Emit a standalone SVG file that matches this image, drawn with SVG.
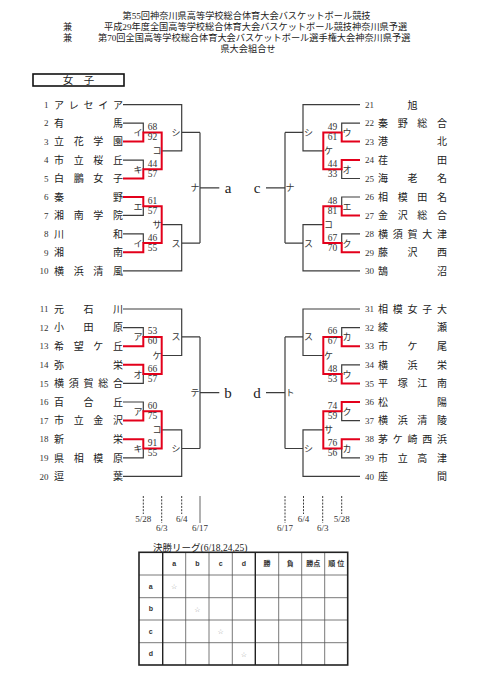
<svg xmlns="http://www.w3.org/2000/svg" width="481" height="680" viewBox="0 0 481 680">
<style>
.bg{fill:#fff}
.ln{fill:none;stroke:#3c3c3c;stroke-width:1.2}
.rd{fill:none;stroke:#e3001b;stroke-width:2}
.dt{fill:none;stroke:#3c3c3c;stroke-width:1;stroke-dasharray:2 1.3}
.dts{fill:none;stroke:#3c3c3c;stroke-width:0.8}
.hd{font-family:"Liberation Serif","Noto Sans CJK JP",serif;font-size:9.2px;fill:#222}
.nm{font-family:"Liberation Serif","Noto Sans CJK JP",serif;font-size:10px;fill:#222;text-anchor:middle}
.no{font-family:"Liberation Serif","Noto Sans CJK JP",serif;font-size:9px;fill:#333}
.sc{font-family:"Liberation Serif",serif;font-size:9.5px;fill:#333;text-anchor:middle}
.lb{font-family:"Liberation Serif","Noto Sans CJK JP",serif;font-size:9px;fill:#333;text-anchor:middle}
.big{font-family:"Liberation Serif",serif;font-size:15px;fill:#222;text-anchor:middle}
.dl{font-family:"Liberation Serif",serif;font-size:9px;fill:#333;text-anchor:middle}
.tb{fill:none;stroke:#222;stroke-width:1.6}
.tt{fill:none;stroke:#222;stroke-width:1.4}
.tn{fill:none;stroke:#555;stroke-width:0.8}
.th{font-family:"Liberation Sans","Noto Sans CJK JP",sans-serif;font-size:7px;font-weight:bold;fill:#333;text-anchor:middle}
.st{font-family:"DejaVu Sans","Noto Sans CJK JP",sans-serif;font-size:7px;fill:#999;text-anchor:middle}
</style>
<rect class="bg" x="0" y="0" width="481" height="680"/>

<g id="header">
<text class="hd" x="246.5" y="19" text-anchor="middle">第55回神奈川県高等学校総合体育大会バスケットボール競技</text>
<text class="hd" x="63" y="29.8">兼</text>
<text class="hd" x="104" y="29.8">平成29年度全国高等学校総合体育大会バスケットボール競技神奈川県予選</text>
<text class="hd" x="63" y="40.5">兼</text>
<text class="hd" x="98" y="40.5">第70回全国高等学校総合体育大会バスケットボール選手権大会神奈川県予選</text>
<text class="hd" x="248" y="51.5" text-anchor="middle">県大会組合せ</text>
</g>

<g id="title">
<rect x="33" y="74" width="91" height="12" fill="none" stroke="#111" stroke-width="1.6"/>
<text class="nm" x="78.5" y="84" style="font-size:10.5px">女　子</text>
</g>

<g id="connectors">
<!-- left top dark -->
<path class="ln" d="M123 104.7H181.7V150.9H161.7 M181.7 132.4H200 M123 123.2H143.3V132.4 M123 160.1H143.3V169.3 M123 215.4H143.3V206.2 M123 233.9H143.3V243.1 M161.7 224.7H181.7V270.8H123 M181.7 243.1H200 M200 132.4V243.1 M200 187.8H219.3"/>
<path class="rd" d="M123 141.6H143.3V132.4H161.7V169.3H143.3V178.5H123 M123 197H143.3V206.2H161.7V243.1H143.3V252.3H123"/>
<!-- left bottom -->
<path class="ln" d="M123 309H181.7V355.5H161.7 M181.7 336.9H200 M123 327.6H143.3V336.9 M123 383.4H143.3V374.1 M123 402H143.3V411.3 M123 457.8H143.3V448.5 M161.7 429.9H181.7V476.4H123 M181.7 448.5H200 M200 336.9V448.5 M200 392.7H219.3"/>
<path class="rd" d="M123 346.2H143.3V336.9H161.7V374.1H143.3V364.8H123 M123 420.6H143.3V411.3H161.7V448.5H143.3V439.2H123"/>
<!-- right top -->
<path class="ln" d="M360 104.7H303V150.9H323.3 M303 132.4H285 M360 123.2H341.7V132.4 M360 178.5H341.7V169.3 M360 197H341.7V206.2 M360 233.9H341.7V243.1 M323.3 224.7H303V270.8H360 M303 243.1H285 M285 132.4V243.1 M285 187.8H266"/>
<path class="rd" d="M360 141.6H341.7V132.4H323.3V169.3H341.7V160.1H360 M360 215.4H341.7V206.2H323.3V243.1H341.7V252.3H360"/>
<!-- right bottom -->
<path class="ln" d="M360 309H303V355.5H323.3 M303 336.9H285 M360 327.6H341.7V336.9 M360 364.8H341.7V374.1 M360 420.6H341.7V411.3 M360 457.8H341.7V448.5 M323.3 429.9H303V476.4H360 M303 448.5H285 M285 336.9V448.5 M285 392.7H266"/>
<path class="rd" d="M360 346.2H341.7V336.9H323.3V374.1H341.7V383.4H360 M360 402H341.7V411.3H323.3V448.5H341.7V439.2H360"/>
<!-- date lines -->
<path class="dt" d="M143.3 496V514 M161.7 496V523 M181.7 496V514 M285 496V523 M303.5 496V514 M322.7 496V523 M341.7 496V514"/>
<path class="dts" d="M200 496V523"/>
</g>

<g id="labels">
<text class="lb" x="138" y="135.8">イ</text>
<text class="lb" x="138" y="172.7">キ</text>
<text class="lb" x="138" y="209.6">エ</text>
<text class="lb" x="138" y="246.5">イ</text>
<text class="lb" x="157" y="154.3">コ</text>
<text class="lb" x="157" y="228.1">サ</text>
<text class="lb" x="176" y="135.8">シ</text>
<text class="lb" x="176" y="246.5">ス</text>
<text class="lb" x="195" y="191.2">ナ</text>
<text class="lb" x="138" y="340.3">ア</text>
<text class="lb" x="138" y="377.5">オ</text>
<text class="lb" x="138" y="414.7">ア</text>
<text class="lb" x="138" y="451.9">キ</text>
<text class="lb" x="157" y="358.9">ケ</text>
<text class="lb" x="157" y="433.3">コ</text>
<text class="lb" x="176" y="340.3">ス</text>
<text class="lb" x="176" y="451.9">シ</text>
<text class="lb" x="195" y="396.1">テ</text>
<text class="lb" x="347" y="135.8">ウ</text>
<text class="lb" x="347" y="172.7">オ</text>
<text class="lb" x="347" y="209.6">エ</text>
<text class="lb" x="347" y="246.5">ク</text>
<text class="lb" x="328.5" y="154.3">ケ</text>
<text class="lb" x="328.5" y="228.1">コ</text>
<text class="lb" x="308.5" y="135.8">シ</text>
<text class="lb" x="308.5" y="246.5">ス</text>
<text class="lb" x="290" y="191.2">ナ</text>
<text class="lb" x="347" y="340.3">カ</text>
<text class="lb" x="347" y="377.5">ウ</text>
<text class="lb" x="347" y="414.7">ク</text>
<text class="lb" x="347" y="451.9">カ</text>
<text class="lb" x="328.5" y="358.9">ケ</text>
<text class="lb" x="328.5" y="433.3">サ</text>
<text class="lb" x="308.5" y="340.3">ス</text>
<text class="lb" x="308.5" y="451.9">シ</text>
<text class="lb" x="290" y="396.1">ト</text>
</g>

<g id="scores">
<text class="sc" x="152.5" y="129.9">68</text><text class="sc" x="152.5" y="139.9">92</text>
<text class="sc" x="152.5" y="166.8">44</text><text class="sc" x="152.5" y="176.8">57</text>
<text class="sc" x="152.5" y="203.7">61</text><text class="sc" x="152.5" y="213.7">57</text>
<text class="sc" x="152.5" y="240.6">46</text><text class="sc" x="152.5" y="250.6">55</text>
<text class="sc" x="152.5" y="334.4">53</text><text class="sc" x="152.5" y="344.4">60</text>
<text class="sc" x="152.5" y="371.6">66</text><text class="sc" x="152.5" y="381.6">57</text>
<text class="sc" x="152.5" y="408.8">60</text><text class="sc" x="152.5" y="418.8">75</text>
<text class="sc" x="152.5" y="446">91</text><text class="sc" x="152.5" y="456">55</text>
<text class="sc" x="332.5" y="129.9">49</text><text class="sc" x="332.5" y="139.9">61</text>
<text class="sc" x="332.5" y="166.8">44</text><text class="sc" x="332.5" y="176.8">33</text>
<text class="sc" x="332.5" y="203.7">48</text><text class="sc" x="332.5" y="213.7">81</text>
<text class="sc" x="332.5" y="240.6">67</text><text class="sc" x="332.5" y="250.6">70</text>
<text class="sc" x="332.5" y="334.4">66</text><text class="sc" x="332.5" y="344.4">67</text>
<text class="sc" x="332.5" y="371.6">48</text><text class="sc" x="332.5" y="381.6">53</text>
<text class="sc" x="332.5" y="408.8">74</text><text class="sc" x="332.5" y="418.8">59</text>
<text class="sc" x="332.5" y="446">76</text><text class="sc" x="332.5" y="456">56</text>
</g>

<g id="finals">
<text class="big" x="228" y="193">a</text>
<text class="big" x="257" y="193">c</text>
<text class="big" x="228" y="398">b</text>
<text class="big" x="257" y="398">d</text>
</g>

<g id="t1"><text class="no" x="48.5" y="107.9" text-anchor="end">1</text><text class="nm" x="59 73.75 88.5 103.25 118" y="108.5">アレセイア</text></g>
<g id="t2"><text class="no" x="48.5" y="126.4" text-anchor="end">2</text><text class="nm" x="59 118" y="127">有馬</text></g>
<g id="t3"><text class="no" x="48.5" y="144.8" text-anchor="end">3</text><text class="nm" x="59 78.67 98.33 118" y="145.4">立花学園</text></g>
<g id="t4"><text class="no" x="48.5" y="163.3" text-anchor="end">4</text><text class="nm" x="59 78.67 98.33 118" y="163.9">市立桜丘</text></g>
<g id="t5"><text class="no" x="48.5" y="181.7" text-anchor="end">5</text><text class="nm" x="59 78.67 98.33 118" y="182.3">白鵬女子</text></g>
<g id="t6"><text class="no" x="48.5" y="200.2" text-anchor="end">6</text><text class="nm" x="59 118" y="200.8">秦野</text></g>
<g id="t7"><text class="no" x="48.5" y="218.6" text-anchor="end">7</text><text class="nm" x="59 78.67 98.33 118" y="219.2">湘南学院</text></g>
<g id="t8"><text class="no" x="48.5" y="237.1" text-anchor="end">8</text><text class="nm" x="59 118" y="237.7">川和</text></g>
<g id="t9"><text class="no" x="48.5" y="255.5" text-anchor="end">9</text><text class="nm" x="59 118" y="256.1">湘南</text></g>
<g id="t10"><text class="no" x="48.5" y="274" text-anchor="end">10</text><text class="nm" x="59 78.67 98.33 118" y="274.6">横浜清風</text></g>
<g id="t11"><text class="no" x="48.5" y="312.2" text-anchor="end">11</text><text class="nm" x="59 88.5 118" y="312.8">元石川</text></g>
<g id="t12"><text class="no" x="48.5" y="330.8" text-anchor="end">12</text><text class="nm" x="59 88.5 118" y="331.4">小田原</text></g>
<g id="t13"><text class="no" x="48.5" y="349.4" text-anchor="end">13</text><text class="nm" x="59 78.67 98.33 118" y="350">希望ケ丘</text></g>
<g id="t14"><text class="no" x="48.5" y="368" text-anchor="end">14</text><text class="nm" x="59 118" y="368.6">弥栄</text></g>
<g id="t15"><text class="no" x="48.5" y="386.6" text-anchor="end">15</text><text class="nm" x="59 73.75 88.5 103.25 118" y="387.2">横須賀総合</text></g>
<g id="t16"><text class="no" x="48.5" y="405.2" text-anchor="end">16</text><text class="nm" x="59 88.5 118" y="405.8">百合丘</text></g>
<g id="t17"><text class="no" x="48.5" y="423.8" text-anchor="end">17</text><text class="nm" x="59 78.67 98.33 118" y="424.4">市立金沢</text></g>
<g id="t18"><text class="no" x="48.5" y="442.4" text-anchor="end">18</text><text class="nm" x="59 118" y="443">新栄</text></g>
<g id="t19"><text class="no" x="48.5" y="461" text-anchor="end">19</text><text class="nm" x="59 78.67 98.33 118" y="461.6">県相模原</text></g>
<g id="t20"><text class="no" x="48.5" y="479.6" text-anchor="end">20</text><text class="nm" x="59 118" y="480.2">逗葉</text></g>

<g id="t21"><text class="no" x="365" y="107.9">21</text><text class="nm" x="412.5" y="108.5">旭</text></g>
<g id="t22"><text class="no" x="365" y="126.4">22</text><text class="nm" x="383 402.67 422.33 442" y="127">秦野総合</text></g>
<g id="t23"><text class="no" x="365" y="144.8">23</text><text class="nm" x="383 442" y="145.4">港北</text></g>
<g id="t24"><text class="no" x="365" y="163.3">24</text><text class="nm" x="383 442" y="163.9">荏田</text></g>
<g id="t25"><text class="no" x="365" y="181.7">25</text><text class="nm" x="383 412.5 442" y="182.3">海老名</text></g>
<g id="t26"><text class="no" x="365" y="200.2">26</text><text class="nm" x="383 402.67 422.33 442" y="200.8">相模田名</text></g>
<g id="t27"><text class="no" x="365" y="218.6">27</text><text class="nm" x="383 402.67 422.33 442" y="219.2">金沢総合</text></g>
<g id="t28"><text class="no" x="365" y="237.1">28</text><text class="nm" x="383 397.75 412.5 427.25 442" y="237.7">横須賀大津</text></g>
<g id="t29"><text class="no" x="365" y="255.5">29</text><text class="nm" x="383 412.5 442" y="256.1">藤沢西</text></g>
<g id="t30"><text class="no" x="365" y="274">30</text><text class="nm" x="383 442" y="274.6">鵠沼</text></g>
<g id="t31"><text class="no" x="365" y="312.2">31</text><text class="nm" x="383 397.75 412.5 427.25 442" y="312.8">相模女子大</text></g>
<g id="t32"><text class="no" x="365" y="330.8">32</text><text class="nm" x="383 442" y="331.4">綾瀬</text></g>
<g id="t33"><text class="no" x="365" y="349.4">33</text><text class="nm" x="383 412.5 442" y="350">市ケ尾</text></g>
<g id="t34"><text class="no" x="365" y="368">34</text><text class="nm" x="383 412.5 442" y="368.6">横浜栄</text></g>
<g id="t35"><text class="no" x="365" y="386.6">35</text><text class="nm" x="383 402.67 422.33 442" y="387.2">平塚江南</text></g>
<g id="t36"><text class="no" x="365" y="405.2">36</text><text class="nm" x="383 442" y="405.8">松陽</text></g>
<g id="t37"><text class="no" x="365" y="423.8">37</text><text class="nm" x="383 402.67 422.33 442" y="424.4">横浜清陵</text></g>
<g id="t38"><text class="no" x="365" y="442.4">38</text><text class="nm" x="383 397.75 412.5 427.25 442" y="443">茅ケ崎西浜</text></g>
<g id="t39"><text class="no" x="365" y="461">39</text><text class="nm" x="383 402.67 422.33 442" y="461.6">市立高津</text></g>
<g id="t40"><text class="no" x="365" y="479.6">40</text><text class="nm" x="383 442" y="480.2">座間</text></g>

<g id="dates">
<text class="dl" x="143.3" y="522">5/28</text>
<text class="dl" x="161.7" y="531">6/3</text>
<text class="dl" x="181.7" y="522">6/4</text>
<text class="dl" x="200" y="531">6/17</text>
<text class="dl" x="285" y="531">6/17</text>
<text class="dl" x="303.5" y="522">6/4</text>
<text class="dl" x="322.7" y="531">6/3</text>
<text class="dl" x="341.7" y="522">5/28</text>
</g>

<g id="league-table">
<text class="hd" x="153" y="550.5" style="font-size:9.5px">決勝リーグ(6/18,24,25)</text>
<path class="tn" d="M185.7 552.3V665 M209 552.3V665 M232.3 552.3V665 M278.7 552.3V665 M301.7 552.3V665 M324.7 552.3V665 M139 575H347.7 M139 597.7H347.7 M139 620H347.7 M139 642.7H347.7"/>
<path class="tt" d="M162.7 552.3V665 M255.3 552.3V665"/>
<rect class="tb" x="139" y="552.3" width="208.7" height="112.7"/>
<text class="th" x="174.2" y="566">a</text>
<text class="th" x="197.3" y="566">b</text>
<text class="th" x="220.7" y="566">c</text>
<text class="th" x="243.8" y="566">d</text>
<text class="th" x="267" y="566.3">勝</text>
<text class="th" x="290.2" y="566.3">負</text>
<text class="th" x="313.2" y="566.3">勝点</text>
<text class="th" x="336.2" y="566.3">順 位</text>
<text class="th" x="150.8" y="588.8">a</text>
<text class="th" x="150.8" y="611.3">b</text>
<text class="th" x="150.8" y="633.8">c</text>
<text class="th" x="150.8" y="656.3">d</text>
<text class="st" x="174.2" y="589">☆</text>
<text class="st" x="197.3" y="611.5">☆</text>
<text class="st" x="220.7" y="634">☆</text>
<text class="st" x="243.8" y="656.5">☆</text>
</g>
</svg>
